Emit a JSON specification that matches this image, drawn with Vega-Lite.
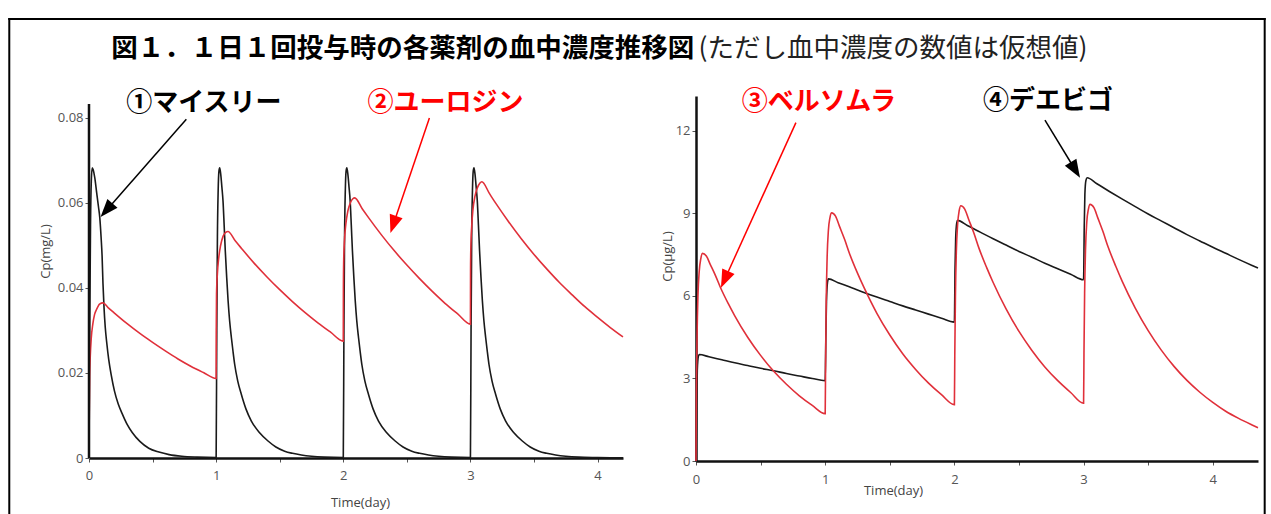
{
  "$schema": "https://vega.github.io/schema/vega-lite/v6.json",
  "background": "white",
  "padding": {"left": 7, "top": 17, "right": 0, "bottom": 0},
  "bounds": "flush",
  "spacing": 73,
  "config": {
    "view": {"stroke": null},
    "axis": {
      "grid": false,
      "labelFont": "Open Sans", "labelFontSize": 13, "labelColor": "#555",
      "titleFont": "Open Sans", "titleFontSize": 13, "titleFontWeight": "normal", "titleColor": "#444",
      "tickColor": "#555", "tickSize": 4, "tickWidth": 1,
      "domainColor": "#111", "domainWidth": 2.5, "labelFlush": false
    }
  },
  "datasets": {
    "left": [
      {"drug":"マイスリー","t":0,"c":0},{"drug":"マイスリー","t":0.006,"c":0.032},{"drug":"マイスリー","t":0.012,"c":0.055},{"drug":"マイスリー","t":0.018,"c":0.065},{"drug":"マイスリー","t":0.025,"c":0.0683},{"drug":"マイスリー","t":0.033,"c":0.0678},{"drug":"マイスリー","t":0.045,"c":0.066},{"drug":"マイスリー","t":0.06,"c":0.0625},{"drug":"マイスリー","t":0.075,"c":0.059},{"drug":"マイスリー","t":0.085,"c":0.0565},{"drug":"マイスリー","t":0.095,"c":0.052},{"drug":"マイスリー","t":0.103,"c":0.0475},{"drug":"マイスリー","t":0.11,"c":0.041},{"drug":"マイスリー","t":0.118,"c":0.0355},{"drug":"マイスリー","t":0.128,"c":0.0307},{"drug":"マイスリー","t":0.14,"c":0.027},{"drug":"マイスリー","t":0.155,"c":0.0232},{"drug":"マイスリー","t":0.175,"c":0.0195},{"drug":"マイスリー","t":0.2,"c":0.0158},{"drug":"マイスリー","t":0.23,"c":0.0127},{"drug":"マイスリー","t":0.26,"c":0.0105},{"drug":"マイスリー","t":0.3,"c":0.0079},{"drug":"マイスリー","t":0.34,"c":0.006},{"drug":"マイスリー","t":0.4,"c":0.0039},{"drug":"マイスリー","t":0.47,"c":0.0023},{"drug":"マイスリー","t":0.55,"c":0.0014},{"drug":"マイスリー","t":0.63,"c":0.0008},{"drug":"マイスリー","t":0.73,"c":0.0004},{"drug":"マイスリー","t":0.85,"c":0.0002},{"drug":"マイスリー","t":0.999,"c":0.0001},
      {"drug":"マイスリー","t":1,"c":0.0001},{"drug":"マイスリー","t":1.005,"c":0.03},{"drug":"マイスリー","t":1.01,"c":0.052},{"drug":"マイスリー","t":1.016,"c":0.063},{"drug":"マイスリー","t":1.022,"c":0.0675},{"drug":"マイスリー","t":1.028,"c":0.0683},{"drug":"マイスリー","t":1.036,"c":0.0668},{"drug":"マイスリー","t":1.045,"c":0.0638},{"drug":"マイスリー","t":1.054,"c":0.0605},{"drug":"マイスリー","t":1.063,"c":0.0548},{"drug":"マイスリー","t":1.072,"c":0.0487},{"drug":"マイスリー","t":1.083,"c":0.0425},{"drug":"マイスリー","t":1.094,"c":0.037},{"drug":"マイスリー","t":1.106,"c":0.0323},{"drug":"マイスリー","t":1.12,"c":0.0283},{"drug":"マイスリー","t":1.133,"c":0.025},{"drug":"マイスリー","t":1.146,"c":0.022},{"drug":"マイスリー","t":1.17,"c":0.0181},{"drug":"マイスリー","t":1.198,"c":0.015},{"drug":"マイスリー","t":1.235,"c":0.0115},{"drug":"マイスリー","t":1.277,"c":0.0087},{"drug":"マイスリー","t":1.34,"c":0.006},{"drug":"マイスリー","t":1.408,"c":0.004},{"drug":"マイスリー","t":1.47,"c":0.0026},{"drug":"マイスリー","t":1.539,"c":0.0016},{"drug":"マイスリー","t":1.6,"c":0.0011},{"drug":"マイスリー","t":1.67,"c":0.0007},{"drug":"マイスリー","t":1.75,"c":0.0004},{"drug":"マイスリー","t":1.85,"c":0.0002},{"drug":"マイスリー","t":1.999,"c":0.0001},
      {"drug":"マイスリー","t":2,"c":0.0001},{"drug":"マイスリー","t":2.005,"c":0.03},{"drug":"マイスリー","t":2.01,"c":0.052},{"drug":"マイスリー","t":2.016,"c":0.063},{"drug":"マイスリー","t":2.022,"c":0.0675},{"drug":"マイスリー","t":2.028,"c":0.0683},{"drug":"マイスリー","t":2.036,"c":0.0668},{"drug":"マイスリー","t":2.045,"c":0.0638},{"drug":"マイスリー","t":2.054,"c":0.0605},{"drug":"マイスリー","t":2.063,"c":0.0548},{"drug":"マイスリー","t":2.072,"c":0.0487},{"drug":"マイスリー","t":2.083,"c":0.0425},{"drug":"マイスリー","t":2.094,"c":0.037},{"drug":"マイスリー","t":2.106,"c":0.0323},{"drug":"マイスリー","t":2.12,"c":0.0283},{"drug":"マイスリー","t":2.133,"c":0.025},{"drug":"マイスリー","t":2.146,"c":0.022},{"drug":"マイスリー","t":2.17,"c":0.0181},{"drug":"マイスリー","t":2.198,"c":0.015},{"drug":"マイスリー","t":2.235,"c":0.0115},{"drug":"マイスリー","t":2.277,"c":0.0087},{"drug":"マイスリー","t":2.34,"c":0.006},{"drug":"マイスリー","t":2.408,"c":0.004},{"drug":"マイスリー","t":2.47,"c":0.0026},{"drug":"マイスリー","t":2.539,"c":0.0016},{"drug":"マイスリー","t":2.6,"c":0.0011},{"drug":"マイスリー","t":2.67,"c":0.0007},{"drug":"マイスリー","t":2.75,"c":0.0004},{"drug":"マイスリー","t":2.85,"c":0.0002},{"drug":"マイスリー","t":2.999,"c":0.0001},
      {"drug":"マイスリー","t":3,"c":0.0001},{"drug":"マイスリー","t":3.005,"c":0.03},{"drug":"マイスリー","t":3.01,"c":0.052},{"drug":"マイスリー","t":3.016,"c":0.063},{"drug":"マイスリー","t":3.022,"c":0.0675},{"drug":"マイスリー","t":3.028,"c":0.0683},{"drug":"マイスリー","t":3.036,"c":0.0668},{"drug":"マイスリー","t":3.045,"c":0.0638},{"drug":"マイスリー","t":3.054,"c":0.0605},{"drug":"マイスリー","t":3.063,"c":0.0548},{"drug":"マイスリー","t":3.072,"c":0.0487},{"drug":"マイスリー","t":3.083,"c":0.0425},{"drug":"マイスリー","t":3.094,"c":0.037},{"drug":"マイスリー","t":3.106,"c":0.0323},{"drug":"マイスリー","t":3.12,"c":0.0283},{"drug":"マイスリー","t":3.133,"c":0.025},{"drug":"マイスリー","t":3.146,"c":0.022},{"drug":"マイスリー","t":3.17,"c":0.0181},{"drug":"マイスリー","t":3.198,"c":0.015},{"drug":"マイスリー","t":3.235,"c":0.0115},{"drug":"マイスリー","t":3.277,"c":0.0087},{"drug":"マイスリー","t":3.34,"c":0.006},{"drug":"マイスリー","t":3.408,"c":0.004},{"drug":"マイスリー","t":3.47,"c":0.0026},{"drug":"マイスリー","t":3.539,"c":0.0016},{"drug":"マイスリー","t":3.6,"c":0.0011},{"drug":"マイスリー","t":3.67,"c":0.0007},{"drug":"マイスリー","t":3.75,"c":0.0004},{"drug":"マイスリー","t":3.85,"c":0.0002},{"drug":"マイスリー","t":4.0,"c":0.0001},{"drug":"マイスリー","t":4.1,"c":0.00005},{"drug":"マイスリー","t":4.2,"c":0.00002},
      {"drug":"ユーロジン","t":0,"c":0},{"drug":"ユーロジン","t":0.002,"c":0.01},{"drug":"ユーロジン","t":0.005,"c":0.019},{"drug":"ユーロジン","t":0.01,"c":0.024},{"drug":"ユーロジン","t":0.018,"c":0.0283},{"drug":"ユーロジン","t":0.03,"c":0.0315},{"drug":"ユーロジン","t":0.044,"c":0.0338},{"drug":"ユーロジン","t":0.06,"c":0.035},{"drug":"ユーロジン","t":0.083,"c":0.0362},{"drug":"ユーロジン","t":0.11,"c":0.0365},{"drug":"ユーロジン","t":0.15,"c":0.0354},{"drug":"ユーロジン","t":0.2,"c":0.0341},{"drug":"ユーロジン","t":0.3,"c":0.0316},{"drug":"ユーロジン","t":0.4,"c":0.0293},{"drug":"ユーロジン","t":0.5,"c":0.0272},{"drug":"ユーロジン","t":0.6,"c":0.0252},{"drug":"ユーロジン","t":0.7,"c":0.0233},{"drug":"ユーロジン","t":0.8,"c":0.0216},{"drug":"ユーロジン","t":0.9,"c":0.0201},{"drug":"ユーロジン","t":0.999,"c":0.0187},
      {"drug":"ユーロジン","t":1,"c":0.0187},{"drug":"ユーロジン","t":1.001,"c":0.03},{"drug":"ユーロジン","t":1.003,"c":0.0385},{"drug":"ユーロジン","t":1.01,"c":0.0435},{"drug":"ユーロジン","t":1.02,"c":0.047},{"drug":"ユーロジン","t":1.035,"c":0.05},{"drug":"ユーロジン","t":1.055,"c":0.0522},{"drug":"ユーロジン","t":1.075,"c":0.0531},{"drug":"ユーロジン","t":1.093,"c":0.0533},{"drug":"ユーロジン","t":1.15,"c":0.0511},{"drug":"ユーロジン","t":1.2,"c":0.0493},{"drug":"ユーロジン","t":1.3,"c":0.0458},{"drug":"ユーロジン","t":1.4,"c":0.0426},{"drug":"ユーロジン","t":1.5,"c":0.0396},{"drug":"ユーロジン","t":1.6,"c":0.0368},{"drug":"ユーロジン","t":1.7,"c":0.0342},{"drug":"ユーロジン","t":1.8,"c":0.0318},{"drug":"ユーロジン","t":1.9,"c":0.0296},{"drug":"ユーロジン","t":1.999,"c":0.0275},
      {"drug":"ユーロジン","t":2,"c":0.0275},{"drug":"ユーロジン","t":2.001,"c":0.04},{"drug":"ユーロジン","t":2.003,"c":0.046},{"drug":"ユーロジン","t":2.01,"c":0.0515},{"drug":"ユーロジン","t":2.02,"c":0.055},{"drug":"ユーロジン","t":2.035,"c":0.058},{"drug":"ユーロジン","t":2.055,"c":0.06},{"drug":"ユーロジン","t":2.075,"c":0.061},{"drug":"ユーロジン","t":2.09,"c":0.0612},{"drug":"ユーロジン","t":2.15,"c":0.0586},{"drug":"ユーロジン","t":2.2,"c":0.0565},{"drug":"ユーロジン","t":2.3,"c":0.0525},{"drug":"ユーロジン","t":2.4,"c":0.0488},{"drug":"ユーロジン","t":2.5,"c":0.0454},{"drug":"ユーロジン","t":2.6,"c":0.0422},{"drug":"ユーロジン","t":2.7,"c":0.0392},{"drug":"ユーロジン","t":2.8,"c":0.0364},{"drug":"ユーロジン","t":2.9,"c":0.0339},{"drug":"ユーロジン","t":2.999,"c":0.0315},
      {"drug":"ユーロジン","t":3,"c":0.0315},{"drug":"ユーロジン","t":3.001,"c":0.044},{"drug":"ユーロジン","t":3.003,"c":0.049},{"drug":"ユーロジン","t":3.01,"c":0.0545},{"drug":"ユーロジン","t":3.02,"c":0.0585},{"drug":"ユーロジン","t":3.035,"c":0.0615},{"drug":"ユーロジン","t":3.055,"c":0.0636},{"drug":"ユーロジン","t":3.075,"c":0.0647},{"drug":"ユーロジン","t":3.09,"c":0.065},{"drug":"ユーロジン","t":3.15,"c":0.0622},{"drug":"ユーロジン","t":3.2,"c":0.0599},{"drug":"ユーロジン","t":3.3,"c":0.0556},{"drug":"ユーロジン","t":3.4,"c":0.0516},{"drug":"ユーロジン","t":3.5,"c":0.0479},{"drug":"ユーロジン","t":3.6,"c":0.0445},{"drug":"ユーロジン","t":3.7,"c":0.0413},{"drug":"ユーロジン","t":3.8,"c":0.0384},{"drug":"ユーロジン","t":3.9,"c":0.0356},{"drug":"ユーロジン","t":4.0,"c":0.0331},{"drug":"ユーロジン","t":4.1,"c":0.0307},{"drug":"ユーロジン","t":4.2,"c":0.0285}
    ],
    "right": [
      {"drug":"デエビゴ","t":0,"c":0},{"drug":"デエビゴ","t":0.005,"c":2.0},{"drug":"デエビゴ","t":0.01,"c":3.3},{"drug":"デエビゴ","t":0.018,"c":3.8},{"drug":"デエビゴ","t":0.025,"c":3.87},{"drug":"デエビゴ","t":0.1,"c":3.79},{"drug":"デエビゴ","t":0.2,"c":3.68},{"drug":"デエビゴ","t":0.3,"c":3.57},{"drug":"デエビゴ","t":0.4,"c":3.47},{"drug":"デエビゴ","t":0.5,"c":3.37},{"drug":"デエビゴ","t":0.6,"c":3.28},{"drug":"デエビゴ","t":0.7,"c":3.18},{"drug":"デエビゴ","t":0.8,"c":3.09},{"drug":"デエビゴ","t":0.9,"c":3.0},{"drug":"デエビゴ","t":0.999,"c":2.92},
      {"drug":"デエビゴ","t":1,"c":2.92},{"drug":"デエビゴ","t":1.005,"c":4.5},{"drug":"デエビゴ","t":1.01,"c":5.8},{"drug":"デエビゴ","t":1.018,"c":6.5},{"drug":"デエビゴ","t":1.025,"c":6.62},{"drug":"デエビゴ","t":1.1,"c":6.48},{"drug":"デエビゴ","t":1.2,"c":6.31},{"drug":"デエビゴ","t":1.3,"c":6.13},{"drug":"デエビゴ","t":1.4,"c":5.96},{"drug":"デエビゴ","t":1.5,"c":5.8},{"drug":"デエビゴ","t":1.6,"c":5.64},{"drug":"デエビゴ","t":1.7,"c":5.49},{"drug":"デエビゴ","t":1.8,"c":5.34},{"drug":"デエビゴ","t":1.9,"c":5.19},{"drug":"デエビゴ","t":1.999,"c":5.05},
      {"drug":"デエビゴ","t":2,"c":5.05},{"drug":"デエビゴ","t":2.005,"c":7.0},{"drug":"デエビゴ","t":2.01,"c":8.1},{"drug":"デエビゴ","t":2.018,"c":8.65},{"drug":"デエビゴ","t":2.025,"c":8.75},{"drug":"デエビゴ","t":2.1,"c":8.56},{"drug":"デエビゴ","t":2.2,"c":8.32},{"drug":"デエビゴ","t":2.3,"c":8.08},{"drug":"デエビゴ","t":2.4,"c":7.85},{"drug":"デエビゴ","t":2.5,"c":7.62},{"drug":"デエビゴ","t":2.6,"c":7.41},{"drug":"デエビゴ","t":2.7,"c":7.19},{"drug":"デエビゴ","t":2.8,"c":6.99},{"drug":"デエビゴ","t":2.9,"c":6.79},{"drug":"デエビゴ","t":2.999,"c":6.59},
      {"drug":"デエビゴ","t":3,"c":6.59},{"drug":"デエビゴ","t":3.005,"c":8.5},{"drug":"デエビゴ","t":3.01,"c":9.7},{"drug":"デエビゴ","t":3.018,"c":10.2},{"drug":"デエビゴ","t":3.028,"c":10.3},{"drug":"デエビゴ","t":3.1,"c":10.09},{"drug":"デエビゴ","t":3.2,"c":9.8},{"drug":"デエビゴ","t":3.3,"c":9.52},{"drug":"デエビゴ","t":3.4,"c":9.25},{"drug":"デエビゴ","t":3.5,"c":8.98},{"drug":"デエビゴ","t":3.6,"c":8.73},{"drug":"デエビゴ","t":3.7,"c":8.48},{"drug":"デエビゴ","t":3.8,"c":8.23},{"drug":"デエビゴ","t":3.9,"c":8.0},{"drug":"デエビゴ","t":4.0,"c":7.77},{"drug":"デエビゴ","t":4.1,"c":7.55},{"drug":"デエビゴ","t":4.2,"c":7.33},{"drug":"デエビゴ","t":4.3,"c":7.12},{"drug":"デエビゴ","t":4.35,"c":7.02},
      {"drug":"ベルソムラ","t":0,"c":0},{"drug":"ベルソムラ","t":0.003,"c":2.5},{"drug":"ベルソムラ","t":0.008,"c":4.5},{"drug":"ベルソムラ","t":0.015,"c":6.0},{"drug":"ベルソムラ","t":0.025,"c":6.9},{"drug":"ベルソムラ","t":0.037,"c":7.35},{"drug":"ベルソムラ","t":0.05,"c":7.55},{"drug":"ベルソムラ","t":0.08,"c":7.45},{"drug":"ベルソムラ","t":0.11,"c":7.15},{"drug":"ベルソムラ","t":0.15,"c":6.75},{"drug":"ベルソムラ","t":0.19,"c":6.3},{"drug":"ベルソムラ","t":0.25,"c":5.72},{"drug":"ベルソムラ","t":0.3,"c":5.28},{"drug":"ベルソムラ","t":0.4,"c":4.5},{"drug":"ベルソムラ","t":0.5,"c":3.84},{"drug":"ベルソムラ","t":0.6,"c":3.27},{"drug":"ベルソムラ","t":0.7,"c":2.79},{"drug":"ベルソムラ","t":0.8,"c":2.37},{"drug":"ベルソムラ","t":0.9,"c":2.02},{"drug":"ベルソムラ","t":0.999,"c":1.72},
      {"drug":"ベルソムラ","t":1,"c":1.72},{"drug":"ベルソムラ","t":1.003,"c":3.5},{"drug":"ベルソムラ","t":1.008,"c":5.8},{"drug":"ベルソムラ","t":1.015,"c":7.4},{"drug":"ベルソムラ","t":1.025,"c":8.4},{"drug":"ベルソムラ","t":1.037,"c":8.85},{"drug":"ベルソムラ","t":1.05,"c":9.02},{"drug":"ベルソムラ","t":1.08,"c":8.9},{"drug":"ベルソムラ","t":1.11,"c":8.54},{"drug":"ベルソムラ","t":1.15,"c":8.06},{"drug":"ベルソムラ","t":1.19,"c":7.52},{"drug":"ベルソムラ","t":1.25,"c":6.83},{"drug":"ベルソムラ","t":1.3,"c":6.31},{"drug":"ベルソムラ","t":1.4,"c":5.37},{"drug":"ベルソムラ","t":1.5,"c":4.58},{"drug":"ベルソムラ","t":1.6,"c":3.9},{"drug":"ベルソムラ","t":1.7,"c":3.33},{"drug":"ベルソムラ","t":1.8,"c":2.83},{"drug":"ベルソムラ","t":1.9,"c":2.41},{"drug":"ベルソムラ","t":1.999,"c":2.05},
      {"drug":"ベルソムラ","t":2,"c":2.05},{"drug":"ベルソムラ","t":2.003,"c":3.8},{"drug":"ベルソムラ","t":2.008,"c":6.0},{"drug":"ベルソムラ","t":2.015,"c":7.6},{"drug":"ベルソムラ","t":2.025,"c":8.6},{"drug":"ベルソムラ","t":2.037,"c":9.1},{"drug":"ベルソムラ","t":2.05,"c":9.28},{"drug":"ベルソムラ","t":2.08,"c":9.16},{"drug":"ベルソムラ","t":2.11,"c":8.79},{"drug":"ベルソムラ","t":2.15,"c":8.3},{"drug":"ベルソムラ","t":2.19,"c":7.74},{"drug":"ベルソムラ","t":2.25,"c":7.03},{"drug":"ベルソムラ","t":2.3,"c":6.49},{"drug":"ベルソムラ","t":2.4,"c":5.53},{"drug":"ベルソムラ","t":2.5,"c":4.71},{"drug":"ベルソムラ","t":2.6,"c":4.02},{"drug":"ベルソムラ","t":2.7,"c":3.42},{"drug":"ベルソムラ","t":2.8,"c":2.92},{"drug":"ベルソムラ","t":2.9,"c":2.49},{"drug":"ベルソムラ","t":2.999,"c":2.1},
      {"drug":"ベルソムラ","t":3,"c":2.1},{"drug":"ベルソムラ","t":3.003,"c":3.9},{"drug":"ベルソムラ","t":3.008,"c":6.1},{"drug":"ベルソムラ","t":3.015,"c":7.7},{"drug":"ベルソムラ","t":3.025,"c":8.7},{"drug":"ベルソムラ","t":3.037,"c":9.15},{"drug":"ベルソムラ","t":3.05,"c":9.33},{"drug":"ベルソムラ","t":3.08,"c":9.21},{"drug":"ベルソムラ","t":3.11,"c":8.84},{"drug":"ベルソムラ","t":3.15,"c":8.34},{"drug":"ベルソムラ","t":3.19,"c":7.78},{"drug":"ベルソムラ","t":3.25,"c":7.07},{"drug":"ベルソムラ","t":3.3,"c":6.52},{"drug":"ベルソムラ","t":3.4,"c":5.56},{"drug":"ベルソムラ","t":3.5,"c":4.74},{"drug":"ベルソムラ","t":3.6,"c":4.04},{"drug":"ベルソムラ","t":3.7,"c":3.44},{"drug":"ベルソムラ","t":3.8,"c":2.93},{"drug":"ベルソムラ","t":3.9,"c":2.5},{"drug":"ベルソムラ","t":4.0,"c":2.13},{"drug":"ベルソムラ","t":4.1,"c":1.81},{"drug":"ベルソムラ","t":4.2,"c":1.55},{"drug":"ベルソムラ","t":4.3,"c":1.32},{"drug":"ベルソムラ","t":4.35,"c":1.21}
    ]
  },
  "hconcat": [
    {
      "width": 534,
      "height": 362,
      "layer": [
        {
          "data": {"name": "left"},
          "mark": {"type": "line", "strokeWidth": 1.6, "interpolate": "monotone"},
          "encoding": {
            "x": {
              "field": "t", "type": "quantitative",
              "scale": {"domain": [0, 4.2], "nice": false, "zero": false},
              "axis": {"values": [0, 0.5, 1, 1.5, 2, 2.5, 3, 3.5, 4], "format": "~g", "labelExpr": "datum.value % 1 === 0 ? datum.label : ''", "title": "Time(day)", "titleX": 271, "titleY": 44, "titleBaseline": "middle", "labelPadding": 7}
            },
            "y": {
              "field": "c", "type": "quantitative",
              "scale": {"domain": [0, 0.085176], "nice": false, "zero": false},
              "axis": {"values": [0, 0.02, 0.04, 0.06, 0.08], "format": "~g", "domain": false, "title": "Cp(mg/L)", "titleX": -44, "titleY": 155, "titleBaseline": "middle", "labelPadding": 2}
            },
            "color": {"field": "drug", "type": "nominal", "scale": {"domain": ["マイスリー", "ユーロジン"], "range": ["#1a1a1a", "#e0303a"]}, "legend": null}
          }
        },
        {
          "data": {"values": [{}]},
          "mark": {"type": "rule", "color": "#000", "strokeWidth": 2, "strokeCap": "square"},
          "encoding": {
            "x": {"datum": -0.627, "type": "quantitative"},
            "x2": {"datum": 9.247},
            "y": {"datum": 0.1033, "type": "quantitative"}
          }
        },
        {
          "data": {"values": [{}]},
          "mark": {"type": "rule", "color": "#000", "strokeWidth": 2, "strokeCap": "square"},
          "encoding": {
            "x": {"datum": -0.627, "type": "quantitative"},
            "y": {"datum": 0.1033, "type": "quantitative"},
            "y2": {"datum": -0.01318}
          }
        },
        {
          "data": {"values": [{}]},
          "mark": {"type": "rule", "color": "#000", "strokeWidth": 2, "strokeCap": "square"},
          "encoding": {
            "x": {"datum": 9.247, "type": "quantitative"},
            "y": {"datum": 0.1033, "type": "quantitative"},
            "y2": {"datum": -0.01318}
          }
        },
        {
          "data": {"values": [{}]},
          "mark": {"type": "text", "text": "図１．１日１回投与時の各薬剤の血中濃度推移図", "font": "Noto Sans CJK JP", "fontSize": 26.5, "fontWeight": "bold", "align": "left", "baseline": "middle", "color": "#000"},
          "encoding": {
            "x": {"datum": 0.1755, "type": "quantitative"},
            "y": {"datum": 0.096235, "type": "quantitative"}
          }
        },
        {
          "data": {"values": [{}]},
          "mark": {"type": "text", "text": "(ただし血中濃度の数値は仮想値)", "font": "Noto Sans CJK JP", "fontSize": 26.5, "fontWeight": "normal", "align": "left", "baseline": "middle", "color": "#222"},
          "encoding": {
            "x": {"datum": 4.794, "type": "quantitative"},
            "y": {"datum": 0.096235, "type": "quantitative"}
          }
        },
        {
          "data": {"values": [{}]},
          "mark": {"type": "rule", "color": "#111", "strokeWidth": 2.5},
          "encoding": {
            "x": {"datum": 0, "type": "quantitative"},
            "y": {"datum": 0, "type": "quantitative"},
            "y2": {"datum": 0.0833}
          }
        },
        {
          "data": {"values": [
            {"label": "①マイスリー", "drug": "マイスリー", "t": 0.903, "c": 0.08353},
            {"label": "②ユーロジン", "drug": "ユーロジン", "t": 2.803, "c": 0.08353}
          ]},
          "mark": {"type": "text", "font": "Noto Sans CJK JP", "fontSize": 26, "fontWeight": "bold", "align": "center", "baseline": "middle"},
          "encoding": {
            "x": {"field": "t", "type": "quantitative"},
            "y": {"field": "c", "type": "quantitative"},
            "text": {"field": "label"},
            "color": {"condition": {"test": "datum.drug === 'ユーロジン'", "value": "#ff0000"}, "value": "#000000"}
          }
        },
        {
          "data": {"values": [
            {"drug": "マイスリー", "t": 0.7655, "c": 0.07969, "t2": 0.1377, "c2": 0.05831},
            {"drug": "ユーロジン", "t": 2.6774, "c": 0.08, "t2": 2.3934, "c2": 0.05494}
          ]},
          "mark": {"type": "rule", "strokeWidth": 1.5},
          "encoding": {
            "x": {"field": "t", "type": "quantitative"},
            "y": {"field": "c", "type": "quantitative"},
            "x2": {"field": "t2"},
            "y2": {"field": "c2"},
            "color": {"condition": {"test": "datum.drug === 'ユーロジン'", "value": "#ff0000"}, "value": "#000000"}
          }
        },
        {
          "data": {"values": [{"drug": "マイスリー", "t": 0.1377, "c": 0.05831}]},
          "mark": {"type": "point", "shape": "M0,-1L-0.75,1L0.75,1Z", "filled": true, "size": 324, "angle": 221.3, "color": "#000000", "opacity": 1, "strokeWidth": 0},
          "encoding": {
            "x": {"field": "t", "type": "quantitative"},
            "y": {"field": "c", "type": "quantitative"}
          }
        },
        {
          "data": {"values": [{"drug": "ユーロジン", "t": 2.3934, "c": 0.05494}]},
          "mark": {"type": "point", "shape": "M0,-1L-0.75,1L0.75,1Z", "filled": true, "size": 324, "angle": 198.7, "color": "#ff0000", "opacity": 1, "strokeWidth": 0},
          "encoding": {
            "x": {"field": "t", "type": "quantitative"},
            "y": {"field": "c", "type": "quantitative"}
          }
        }
      ]
    },
    {
      "width": 562,
      "height": 365,
      "layer": [
        {
          "data": {"name": "right"},
          "mark": {"type": "line", "strokeWidth": 1.6, "interpolate": "monotone"},
          "encoding": {
            "x": {
              "field": "t", "type": "quantitative",
              "scale": {"domain": [0, 4.35], "nice": false, "zero": false},
              "axis": {"values": [0, 0.5, 1, 1.5, 2, 2.5, 3, 3.5, 4], "format": "~g", "labelExpr": "datum.value % 1 === 0 ? datum.label : ''", "title": "Time(day)", "titleX": 197, "titleY": 29, "titleBaseline": "middle", "labelPadding": 8}
            },
            "y": {
              "field": "c", "type": "quantitative",
              "scale": {"domain": [0, 13.27], "nice": false, "zero": false},
              "axis": {"values": [0, 3, 6, 9, 12], "format": "~g", "title": "Cp(μg/L)", "titleX": -29, "titleY": 160, "titleBaseline": "middle", "labelPadding": 2}
            },
            "color": {"field": "drug", "type": "nominal", "scale": {"domain": ["デエビゴ", "ベルソムラ"], "range": ["#1a1a1a", "#e0303a"]}, "legend": null}
          }
        },
        {
          "data": {"values": [
            {"label": "③ベルソムラ", "drug": "ベルソムラ", "t": 0.951, "c": 13.05},
            {"label": "④デエビゴ", "drug": "デエビゴ", "t": 2.725, "c": 13.09}
          ]},
          "mark": {"type": "text", "font": "Noto Sans CJK JP", "fontSize": 26, "fontWeight": "bold", "align": "center", "baseline": "middle"},
          "encoding": {
            "x": {"field": "t", "type": "quantitative"},
            "y": {"field": "c", "type": "quantitative"},
            "text": {"field": "label"},
            "color": {"condition": {"test": "datum.drug === 'ベルソムラ'", "value": "#ff0000"}, "value": "#000000"}
          }
        },
        {
          "data": {"values": [
            {"drug": "ベルソムラ", "t": 0.7734, "c": 12.3, "t2": 0.222, "c2": 6.6},
            {"drug": "デエビゴ", "t": 2.701, "c": 12.39, "t2": 2.936, "c2": 10.58}
          ]},
          "mark": {"type": "rule", "strokeWidth": 1.5},
          "encoding": {
            "x": {"field": "t", "type": "quantitative"},
            "y": {"field": "c", "type": "quantitative"},
            "x2": {"field": "t2"},
            "y2": {"field": "c2"},
            "color": {"condition": {"test": "datum.drug === 'ベルソムラ'", "value": "#ff0000"}, "value": "#000000"}
          }
        },
        {
          "data": {"values": [{"drug": "ベルソムラ", "t": 0.222, "c": 6.6}]},
          "mark": {"type": "point", "shape": "M0,-1L-0.75,1L0.75,1Z", "filled": true, "size": 324, "angle": 204.4, "color": "#ff0000", "opacity": 1, "strokeWidth": 0},
          "encoding": {
            "x": {"field": "t", "type": "quantitative"},
            "y": {"field": "c", "type": "quantitative"}
          }
        },
        {
          "data": {"values": [{"drug": "デエビゴ", "t": 2.936, "c": 10.58}]},
          "mark": {"type": "point", "shape": "M0,-1L-0.75,1L0.75,1Z", "filled": true, "size": 324, "angle": 148.6, "color": "#000000", "opacity": 1, "strokeWidth": 0},
          "encoding": {
            "x": {"field": "t", "type": "quantitative"},
            "y": {"field": "c", "type": "quantitative"}
          }
        }
      ]
    }
  ]
}
